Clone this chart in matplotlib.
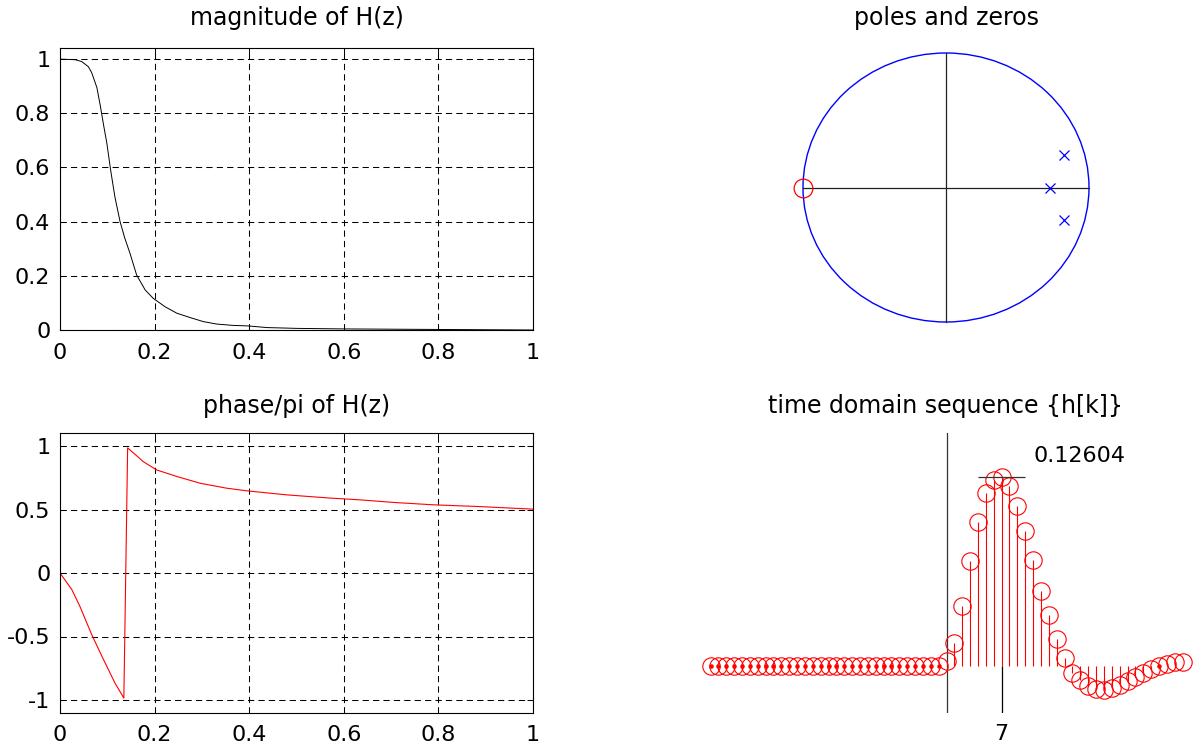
import matplotlib
matplotlib.use("Agg")
import matplotlib.pyplot as plt
from matplotlib.patches import Circle
import numpy as np

# magnitude of H(z) (x = normalised frequency)
mag_freq = [0, 0.032, 0.046, 0.060, 0.067, 0.078, 0.085, 0.092, 0.099, 0.107, 0.116,
            0.127, 0.137, 0.148, 0.162, 0.180, 0.197, 0.222, 0.247, 0.275, 0.303,
            0.331, 0.366, 0.398, 0.437, 0.5, 0.6, 0.7, 0.8, 0.9, 1.0]
mag_vals = [1.0, 0.998, 0.991, 0.972, 0.950, 0.895, 0.830, 0.758, 0.690, 0.591, 0.492,
            0.400, 0.339, 0.283, 0.203, 0.148, 0.117, 0.086, 0.062, 0.046, 0.031,
            0.022, 0.017, 0.015, 0.009, 0.006, 0.004, 0.003, 0.002, 0.001, 0.0]

# phase/pi of H(z)
phase_freq = [0, 0.025, 0.042, 0.067, 0.092, 0.116, 0.135, 0.143, 0.160, 0.176,
              0.204, 0.247, 0.296, 0.352, 0.395, 0.48, 0.571, 0.634, 0.708, 0.789,
              0.881, 1.0]
phase_vals = [0, -0.131, -0.262, -0.485, -0.682, -0.865, -0.985, 0.985, 0.93, 0.877,
              0.812, 0.760, 0.707, 0.668, 0.647, 0.615, 0.59, 0.576, 0.555, 0.537,
              0.524, 0.503]

freq_ticks = [0, 0.2, 0.4, 0.6, 0.8, 1]
freq_labels = ["0", "0.2", "0.4", "0.6", "0.8", "1"]
mag_ticks = [0, 0.2, 0.4, 0.6, 0.8, 1]
mag_labels = ["0", "0.2", "0.4", "0.6", "0.8", "1"]
phase_ticks = [-1, -0.5, 0, 0.5, 1]
phase_labels = ["-1", "-0.5", "0", "0.5", "1"]

# poles and zeros
zero_re = [-1.0]
zero_im = [0.0]
pole_re = [0.727, 0.825, 0.825]
pole_im = [0.0, 0.238, -0.238]

# impulse response h[k], k = -30 .. 30
k_vals = list(range(-30, 31))
h_vals = [0.0] * 30 + [
    0.0029, 0.0152, 0.0402, 0.0698, 0.0961, 0.1155, 0.1245, 0.12604, 0.1200, 0.1066,
    0.0899, 0.0705, 0.0497, 0.0341, 0.0182, 0.0049, -0.0047, -0.0097, -0.0138, -0.0158,
    -0.0160, -0.0150, -0.0127, -0.0103, -0.0074, -0.0049, -0.0025, 0.0, 0.0013, 0.0022,
    0.0027]

W, H = 1193, 746
plt.rcParams["axes.unicode_minus"] = False
plt.rcParams["lines.scale_dashes"] = False
plt.rcParams["font.family"] = ["DejaVu Sans"]


def px_rect(left, top, right, bottom):
    return [left / W, 1 - bottom / H, (right - left) / W, (bottom - top) / H]


def style_axes(ax):
    ax.grid(True, color="k", linestyle=(0, (4.5, 3.0)), linewidth=0.75)
    ax.tick_params(direction="in", top=True, right=True, length=4, width=0.7,
                   labelsize=16)
    ax.tick_params(axis="x", pad=9)
    ax.tick_params(axis="y", pad=7)
    for sp in ax.spines.values():
        sp.set_linewidth(0.8)


fig = plt.figure(figsize=(W / 100, H / 100), dpi=100)

# magnitude
ax1 = fig.add_axes(px_rect(60, 48.3, 533, 330))
ax1.plot(mag_freq, mag_vals, color="k", linewidth=0.7)
ax1.set_xlim(0, 1)
ax1.set_ylim(0, 1.04)
ax1.set_xticks(freq_ticks, freq_labels)
ax1.set_yticks(mag_ticks, mag_labels)
style_axes(ax1)

# phase
ax2 = fig.add_axes(px_rect(60, 433.3, 533, 712.7))
ax2.plot(phase_freq, phase_vals, color="r", linewidth=0.8)
ax2.set_xlim(0, 1)
ax2.set_ylim(-1.1, 1.1)
ax2.set_xticks(freq_ticks, freq_labels)
ax2.set_yticks(phase_ticks, phase_labels)
style_axes(ax2)

# poles and zeros
ax3 = fig.add_axes(px_rect(803, 53, 1089, 322))
ax3.set_xlim(-1, 1)
ax3.set_ylim(-1, 1)
ax3.axis("off")
ax3.add_patch(Circle((0, 0), 1, fill=False, edgecolor="b", linewidth=1.0,
                     clip_on=False))
ax3.axhline(0, color="#222222", linewidth=0.9, clip_on=False)
ax3.axvline(0, color="#222222", linewidth=0.9, clip_on=False)
ax3.plot(zero_re, zero_im, "o", mfc="none", mec="r", ms=13.5, mew=0.9,
         clip_on=False)
ax3.plot(pole_re, pole_im, "x", color="b", ms=6.5, mew=0.9, clip_on=False)

# time domain sequence
ax4 = fig.add_axes(px_rect(710.5, 433.3, 1182.6, 712.7))
ax4.set_xlim(-30, 30)
y_lo, y_hi = -0.0314, 0.1555
ax4.set_ylim(y_lo, y_hi)
ax4.axis("off")
ax4.axvline(0, color="#333333", linewidth=0.9)
markerline, stemlines, baseline = ax4.stem(k_vals, h_vals, linefmt="r-",
                                           markerfmt="ro", basefmt=" ")
markerline.set_markerfacecolor("none")
markerline.set_markersize(12.5)
markerline.set_markeredgewidth(0.8)
markerline.set_clip_on(False)
stemlines.set_linewidth(0.8)
zero_k = [k for k, h in zip(k_vals, h_vals) if h == 0]
ax4.plot(zero_k, [0] * len(zero_k), ".", color="r", ms=4.5, clip_on=False)

peak_i = int(np.argmax(h_vals))
peak_k, peak_h = k_vals[peak_i], h_vals[peak_i]
ax4.hlines(peak_h, peak_k - 3, peak_k + 3, color="#333333", linewidth=0.9)
ax4.vlines(peak_k, y_lo, 0, color="k", linewidth=0.9)
ax4.text(peak_k + 4, peak_h + 0.0102, f"{peak_h:.5f}", fontsize=16,
         ha="left", va="baseline")
ax4.text(peak_k, -0.0495, str(peak_k), fontsize=16, ha="center",
         va="baseline", clip_on=False)

# titles
fig.text(297 / W, 1 - 18 / H, "magnitude of H(z)", fontsize=17, ha="center", va="center")
fig.text(946 / W, 1 - 18 / H, "poles and zeros", fontsize=17, ha="center", va="center")
fig.text(297 / W, 1 - 405.5 / H, "phase/pi of H(z)", fontsize=17, ha="center", va="center")
fig.text(946 / W, 1 - 405.5 / H, "time domain sequence {h[k]}", fontsize=17,
         ha="center", va="center")

fig.savefig("out.png", dpi=100)
